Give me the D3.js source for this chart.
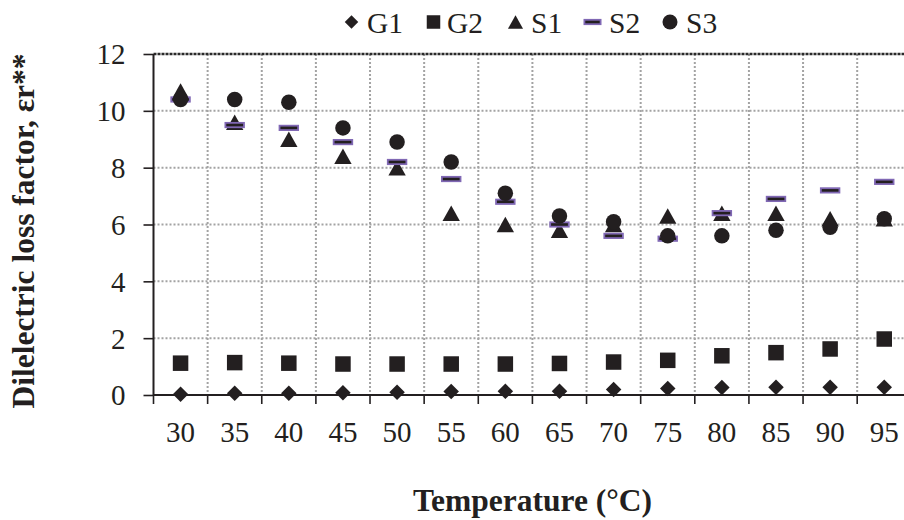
<!DOCTYPE html>
<html>
<head>
<meta charset="utf-8">
<script src="https://cdn.jsdelivr.net/npm/d3@7"></script>
<style>
  html, body { margin: 0; padding: 0; background: #fff; }
  svg { display: block; font-family: "Liberation Serif", "Times New Roman", serif; }
</style>
</head>
<body>
<svg id="chart" width="904" height="520"></svg>
<script>
// Temperatures (°C) on the category axis
const temps = ["30", "35", "40", "45", "50", "55", "60", "65", "70", "75", "80", "85", "90", "95"];
// Dielectric loss factor per sample
const G1 = [0.03, 0.06, 0.06, 0.08, 0.10, 0.12, 0.13, 0.13, 0.19, 0.23, 0.26, 0.27, 0.27, 0.27];
const G2 = [1.12, 1.14, 1.12, 1.09, 1.09, 1.09, 1.09, 1.11, 1.16, 1.22, 1.38, 1.49, 1.62, 1.97];
const S1 = [10.7, 9.6, 9.0, 8.4, 8.0, 6.4, 6.0, 5.8, 6.0, 6.3, 6.4, 6.4, 6.2, 6.2];
const S2 = [10.4, 9.5, 9.4, 8.9, 8.2, 7.6, 6.8, 6.0, 5.6, 5.5, 6.4, 6.9, 7.2, 7.5];
const S3 = [10.4, 10.4, 10.3, 9.4, 8.9, 8.2, 7.1, 6.3, 6.1, 5.6, 5.6, 5.8, 5.9, 6.2];
const yTicks = [0, 2, 4, 6, 8, 10, 12];
const seriesNames = ["G1", "G2", "S1", "S2", "S3"];
const seriesValues = [G1, G2, S1, S2, S3];

const ink = "#231f20";
const dashEdge = "#8068b4";
const gridColor = "#a3a3a3";
const serif = "Liberation Serif, Times New Roman, serif";

const svg = d3.select("#chart");
const plotLeft = 153.5, plotTop = 54, plotBottom = 395;
const bandW = 54.13;

const x = d3.scaleBand().domain(temps).range([plotLeft, plotLeft + bandW * temps.length]).padding(0);
const y = d3.scaleLinear().domain([0, 12]).range([plotBottom, plotTop]);

// Marker painters, each centred on (0,0)
function marker(sel, name, s) {
  const h = s / 2;
  if (name === "G1") {
    sel.append("path").attr("d", `M0,${-h}L${h},0L0,${h}L${-h},0Z`).attr("fill", ink);
  } else if (name === "G2") {
    sel.append("rect").attr("x", -h).attr("y", -h).attr("width", s).attr("height", s).attr("fill", ink);
  } else if (name === "S1") {
    const w = s * 0.56;
    sel.append("path").attr("d", `M0,${-h}L${w},${h}L${-w},${h}Z`).attr("fill", ink);
  } else if (name === "S2") {
    const w = s * 1.2, t = 4.4;
    sel.append("rect").attr("x", -w / 2).attr("y", -t / 2).attr("width", w).attr("height", t)
      .attr("fill", ink).attr("stroke", dashEdge).attr("stroke-width", 1.8);
  } else {
    sel.append("circle").attr("r", h).attr("fill", ink);
  }
}

// Gridlines
const grid = svg.append("g");
grid.selectAll("line.h").data(yTicks.filter(v => v > 0 && v < 12)).join("line")
  .attr("x1", plotLeft).attr("x2", 904).attr("y1", d => y(d)).attr("y2", d => y(d))
  .attr("stroke", gridColor).attr("stroke-width", 2).attr("stroke-dasharray", "2,2");
grid.selectAll("line.v").data(temps.slice(1)).join("line")
  .attr("x1", d => x(d)).attr("x2", d => x(d)).attr("y1", plotTop).attr("y2", plotBottom)
  .attr("stroke", gridColor).attr("stroke-width", 2).attr("stroke-dasharray", "2,2");
// top edge of the plot area
grid.append("line").attr("x1", plotLeft).attr("x2", 904).attr("y1", y(12)).attr("y2", y(12))
  .attr("stroke", "#2a2a2a").attr("stroke-width", 2.5).attr("stroke-dasharray", "3,1");

// Y axis
const yAxis = svg.append("g").attr("transform", `translate(${plotLeft},0)`)
  .call(d3.axisLeft(y).tickValues(yTicks).tickSize(10).tickPadding(18).tickFormat(d3.format("d")));
yAxis.attr("font-family", serif);
yAxis.select(".domain").attr("stroke", ink).attr("stroke-width", 2).attr("d", `M0,${plotTop}V${plotBottom}`);
yAxis.selectAll(".tick line").attr("stroke", ink).attr("stroke-width", 1.6);
yAxis.selectAll(".tick text").attr("fill", ink).attr("font-size", 29).attr("dy", "0.34em");

// X axis: ticks sit on category boundaries
const xAxis = svg.append("g").attr("transform", `translate(0,${plotBottom})`)
  .call(d3.axisBottom(x).tickSize(0).tickPadding(26));
xAxis.attr("font-family", serif);
xAxis.select(".domain").attr("stroke", ink).attr("stroke-width", 2)
  .attr("d", `M${plotLeft},0H904`);
xAxis.selectAll(".tick text").attr("fill", ink).attr("font-size", 29);
xAxis.selectAll("line.bnd").data(temps).join("line").attr("class", "bnd")
  .attr("x1", d => x(d)).attr("x2", d => x(d)).attr("y1", 0).attr("y2", 9)
  .attr("stroke", ink).attr("stroke-width", 1.6);

// Data markers, drawn in series order
seriesNames.forEach((name, si) => {
  const g = svg.append("g");
  seriesValues[si].forEach((v, i) => {
    const m = g.append("g")
      .attr("transform", `translate(${x(temps[i]) + x.bandwidth() / 2},${y(v)})`);
    marker(m, name, 15.5);
  });
});

// Legend
const legendPos = [
  { mx: 351.5, tx: 367 }, { mx: 433.5, tx: 447 }, { mx: 515.5, tx: 531 },
  { mx: 592.5, tx: 609 }, { mx: 670, tx: 686 }
];
const legend = svg.append("g");
seriesNames.forEach((name, i) => {
  const m = legend.append("g").attr("transform", `translate(${legendPos[i].mx},22)`);
  marker(m, name, name === "S3" ? 15 : 13.5);
  legend.append("text").attr("x", legendPos[i].tx).attr("y", 33)
    .attr("font-size", 29.5).attr("fill", ink).text(name);
});

// Axis titles
svg.append("text").attr("x", 532.5).attr("y", 511).attr("text-anchor", "middle")
  .attr("font-size", 31.5).attr("font-weight", "bold").attr("fill", ink)
  .text("Temperature (°C)");
svg.append("text").attr("transform", "translate(34,231) rotate(-90)").attr("text-anchor", "middle")
  .attr("font-size", 31.5).attr("font-weight", "bold").attr("fill", ink)
  .text("Dilelectric loss factor, εr**");
</script>
</body>
</html>
